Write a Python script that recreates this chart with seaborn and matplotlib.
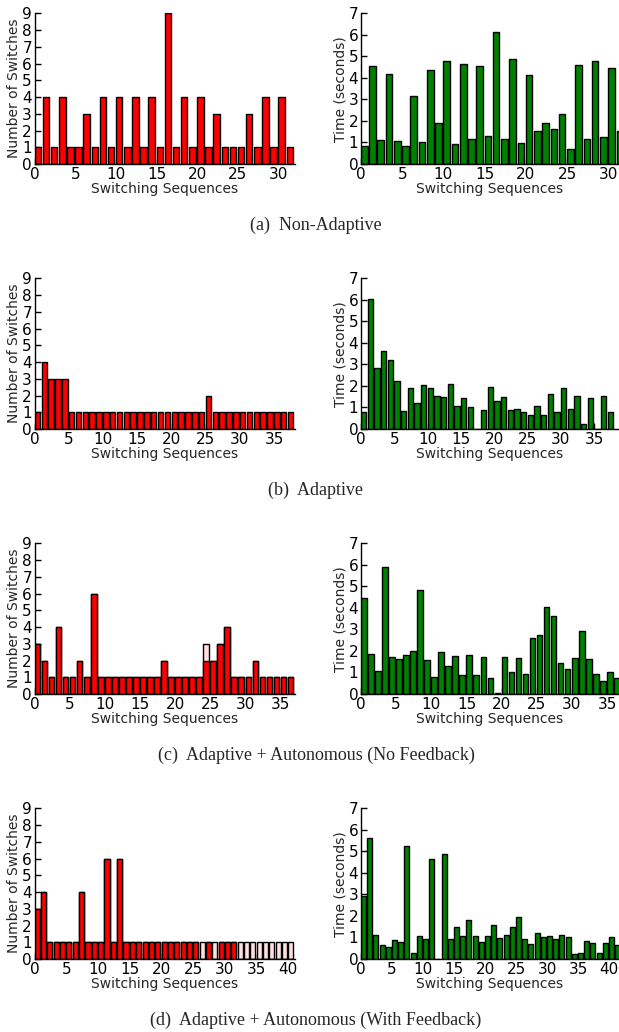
import numpy as np
import pandas as pd
import matplotlib
matplotlib.use('Agg')
import matplotlib.pyplot as plt
from matplotlib.ticker import MultipleLocator
import seaborn as sns

# (a) Non-Adaptive
a_switches = [1, 4, 1, 4, 1, 1, 3, 1, 4, 1, 4, 1, 4, 1, 4, 1,
              9, 1, 4, 1, 4, 1, 3, 1, 1, 1, 3, 1, 4, 1, 4, 1]
a_time = [0.84, 4.57, 1.13, 4.18, 1.05, 0.84, 3.14, 1.00, 4.37, 1.89,
          4.78, 0.94, 4.65, 1.15, 4.55, 1.30, 6.11, 1.18, 4.90, 0.98,
          4.13, 1.55, 1.89, 1.64, 2.34, 0.71, 4.60, 1.15, 4.78, 1.25,
          4.44, 1.55]

# (b) Adaptive
b_switches = [1, 4, 3, 3, 3, 1, 1, 1, 1, 1, 1, 1, 1, 1, 1, 1, 1, 1, 1,
              1, 1, 1, 1, 1, 1, 2, 1, 1, 1, 1, 1, 1, 1, 1, 1, 1, 1, 1]
b_time = [0.79, 6.05, 2.85, 3.62, 3.19, 2.21, 0.84, 1.89, 1.21, 2.04,
          1.89, 1.53, 1.47, 2.07, 1.08, 1.46, 1.02, 0.00, 0.87, 1.93,
          1.30, 1.49, 0.88, 0.93, 0.79, 0.65, 1.05, 0.63, 1.61, 0.79,
          1.89, 0.91, 1.52, 0.22, 1.46, 0.00, 1.53, 0.80]

# (c) Adaptive + Autonomous (No Feedback)
c_switches = [3, 2, 1, 4, 1, 1, 2, 1, 6, 1, 1, 1, 1, 1, 1, 1, 1, 1, 2,
              1, 1, 1, 1, 1, 2, 2, 3, 4, 1, 1, 1, 2, 1, 1, 1, 1, 1]
c_total = [3, 2, 1, 4, 1, 1, 2, 1, 6, 1, 1, 1, 1, 1, 1, 1, 1, 1, 2,
           1, 1, 1, 1, 1, 3, 2, 3, 4, 1, 1, 1, 2, 1, 1, 1, 1, 1]
c_time = [4.44, 1.84, 1.05, 5.88, 1.70, 1.61, 1.80, 2.01, 4.81, 1.56,
          0.79, 1.93, 1.30, 1.76, 0.87, 1.83, 0.88, 1.70, 0.73, 0.03,
          1.73, 1.00, 1.66, 0.91, 2.59, 2.76, 4.02, 3.62, 1.42, 1.16,
          1.69, 2.91, 1.61, 0.91, 0.60, 1.04, 0.74]

# (d) Adaptive + Autonomous (With Feedback)
d_switches = [3, 4, 1, 1, 1, 1, 1, 4, 1, 1, 1, 6, 1, 6, 1, 1, 1, 1, 1, 1, 1,
              1, 1, 1, 1, 1, 0, 1, 0, 1, 1, 1, 0, 0, 0, 0, 0, 0, 0, 0, 0]
d_total = [3, 4, 1, 1, 1, 1, 1, 4, 1, 1, 1, 6, 1, 6, 1, 1, 1, 1, 1, 1, 1,
           1, 1, 1, 1, 1, 1, 1, 1, 1, 1, 1, 1, 1, 1, 1, 1, 1, 1, 1, 1]
d_time = [2.93, 5.60, 1.10, 0.65, 0.54, 0.88, 0.79, 5.26, 0.28, 1.05,
          0.93, 4.66, 0.00, 4.89, 0.93, 1.47, 1.07, 1.83, 1.07, 0.79,
          1.08, 1.59, 0.99, 1.13, 1.47, 1.93, 0.94, 0.70, 1.21, 1.00,
          1.07, 0.93, 1.11, 1.04, 0.23, 0.26, 0.84, 0.76, 0.28, 0.74,
          1.00, 0.67]

captions = ['(a)  Non-Adaptive', '(b)  Adaptive',
            '(c)  Adaptive + Autonomous (No Feedback)',
            '(d)  Adaptive + Autonomous (With Feedback)']

rows = [
    (a_switches, None, a_time, 31.3),
    (b_switches, None, b_time, 38.7),
    (c_switches, c_total, c_time, 36.7),
    (d_switches, d_total, d_time, 41.6),
]

sns.set_theme(style='ticks')
plt.rcParams['font.family'] = ['DejaVu Sans']

W, H = 619, 1032
fig = plt.figure(figsize=(W / 100, H / 100), dpi=100)


def frame(values):
    idx = np.arange(len(values))
    # bars sit on the left edge of each sequence index, like old mpl bar()
    return pd.DataFrame({'pos': idx + 0.4, 'value': values})


def bars(ax, values, color):
    sns.barplot(data=frame(values), x='pos', y='value', native_scale=True,
                color=color, saturation=1, edgecolor='black', linewidth=1,
                errorbar=None, width=0.8, ax=ax)


def style(ax, xmax, ymax, ylabel):
    ax.set_xlim(0, xmax)
    ax.set_ylim(0, ymax)
    ax.xaxis.set_major_locator(MultipleLocator(5))
    ax.yaxis.set_major_locator(MultipleLocator(1))
    ax.tick_params(direction='in', length=4, width=1, pad=2,
                   labelsize=11, colors='black')
    ax.set_xlabel('Switching Sequences', fontsize=10, labelpad=0)
    ax.set_ylabel(ylabel, fontsize=10, labelpad=1)
    sns.despine(ax=ax)
    for s in ('left', 'bottom'):
        ax.spines[s].set_linewidth(1)
        ax.spines[s].set_color('black')


for r, (sw, total, tm, tmax) in enumerate(rows):
    top = 13.3 + 265 * r
    bottom = 164 + 265 * r
    h = (bottom - top) / H
    y0 = 1 - bottom / H

    ax1 = fig.add_axes([34.7 / W, y0, 260 / W, h])
    if total is not None:
        bars(ax1, total, '#ffe0e0')
    bars(ax1, sw, '#ff0000')
    style(ax1, len(sw), 9, 'Number of Switches')

    ax2 = fig.add_axes([361 / W, y0, 1 - 361 / W, h])
    bars(ax2, tm, '#008000')
    style(ax2, tmax, 7, 'Time (seconds)')

    fig.text(316 / W, 1 - (225 + 265 * r) / H, captions[r],
             ha='center', va='center', fontsize=13,
             family=['Liberation Serif', 'DejaVu Serif'])

fig.savefig('out.png', dpi=100)
